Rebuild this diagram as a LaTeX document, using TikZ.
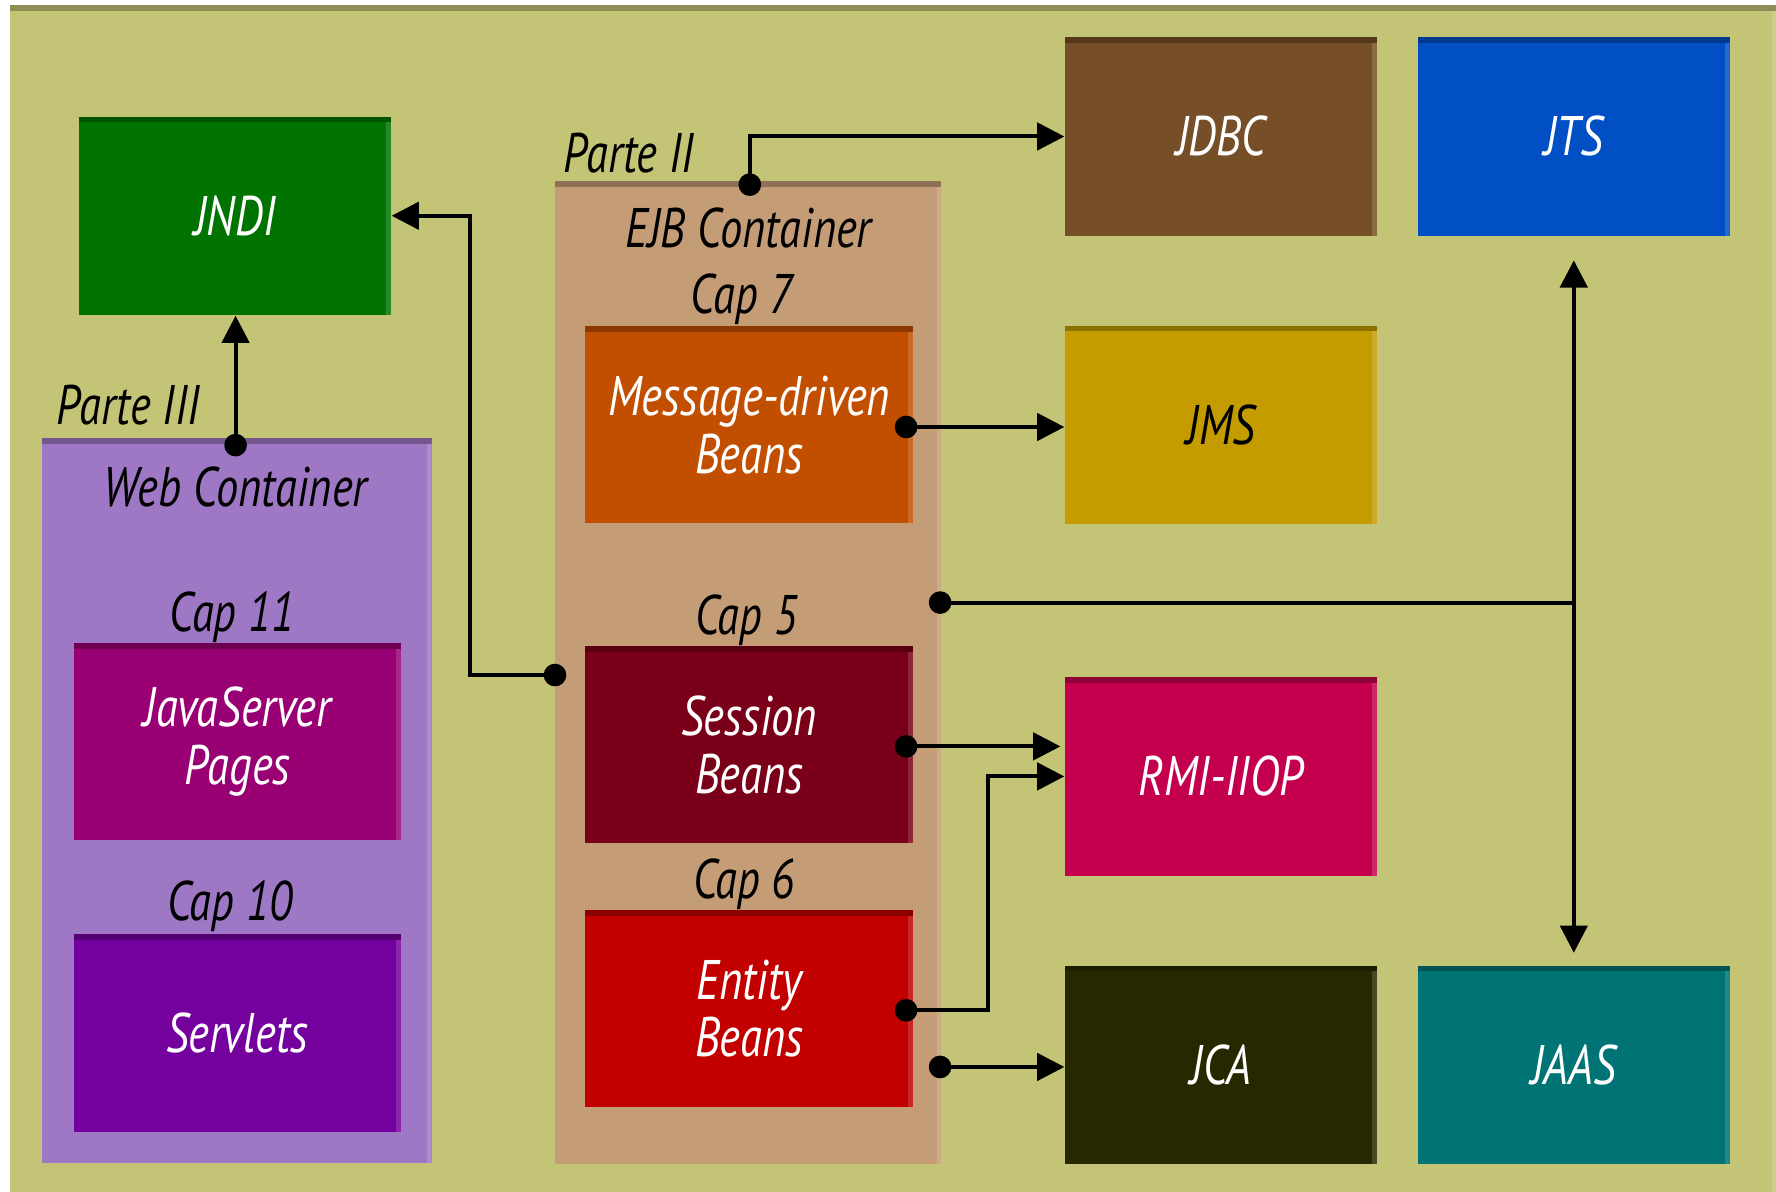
\documentclass[tikz,border=0pt]{standalone}
\usepackage{fontspec}
\setmainfont{PT Sans}[FakeStretch=0.80]
\usetikzlibrary{arrows.meta}
\definecolor{panelc}{HTML}{C4C476}
\definecolor{jndic}{HTML}{007300}
\definecolor{webc}{HTML}{9E78C4}
\definecolor{jspc}{HTML}{990073}
\definecolor{servc}{HTML}{74009E}
\definecolor{ejbc}{HTML}{C49C76}
\definecolor{mdbc}{HTML}{C24E00}
\definecolor{sesc}{HTML}{7A0019}
\definecolor{entc}{HTML}{C20000}
\definecolor{jdbcc}{HTML}{764E27}
\definecolor{jtsc}{HTML}{004FC4}
\definecolor{jmsc}{HTML}{C49C00}
\definecolor{rmic}{HTML}{C4004E}
\definecolor{jcac}{HTML}{282800}
\definecolor{jaasc}{HTML}{007474}

\begin{document}
\begin{tikzpicture}[x = 0.01cm, y = -0.01cm]
\tikzstyle{Blk}=[rectangle, inner sep = 0pt, fill = #1,
path picture = {
\fill[#1!72!black] (path picture bounding box.north west) rectangle ([yshift = -1.4pt]path picture bounding box.north east);
\fill[#1!85!white] ([xshift = -1.2pt, yshift = -1.4pt]path picture bounding box.north east) rectangle (path picture bounding box.south east);
}]
\tikzstyle{SideBox}=[minimum width = 2.75cm, minimum height = 1.75cm, text = white, font = \fontsize{14}{16}\selectfont\itshape, align = center]
\tikzstyle{BeanBox}=[minimum width = 2.89cm, minimum height = 1.74cm, text = white, font = \fontsize{14}{14.5}\selectfont\itshape, align = center]
\tikzstyle{Lbl}=[inner sep = 0pt, font = \fontsize{14}{16}\selectfont\itshape]
\tikzstyle{Arr}=[line width = 1pt, -{Triangle[length = 0.24cm, width = 0.24cm]}]
\tikzstyle{Wire}=[line width = 1pt]
\useasboundingbox (0, 0) rectangle (1568, 1052);
\node[Blk = panelc, minimum width = 15.59cm, minimum height = 10.57cm] (frame) at (788.5, 533.5) {};
\node[Blk = webc, minimum width = 3.44cm, minimum height = 6.40cm] (web) at (209, 707) {};
\node[Blk = ejbc, minimum width = 3.41cm, minimum height = 8.67cm] (ejb) at (660.5, 593.5) {};
\node[Blk = jndic, SideBox] (jndi) at (207.5, 190.5) {JNDI};
\node[Blk = jdbcc, SideBox] (jdbc) at (1078, 120.5) {JDBC};
\node[Blk = jtsc, SideBox] (jts) at (1389.5, 120.5) {JTS};
\node[Blk = jmsc, SideBox, text = black] (jms) at (1078, 375) {JMS};
\node[Blk = rmic, SideBox] (rmi) at (1078, 685.5) {RMI-IIOP};
\node[Blk = jcac, SideBox] (jca) at (1078, 940) {JCA};
\node[Blk = jaasc, SideBox] (jaas) at (1389.5, 940) {JAAS};
\node[Blk = jspc, BeanBox] (jsp) at (209.5, 655) {JavaServer\\Pages};
\node[Blk = servc, BeanBox] (serv) at (209.5, 912) {Servlets};
\node[Blk = mdbc, BeanBox] (mdb) at (661.5, 375) {Message-driven\\Beans};
\node[Blk = sesc, BeanBox] (ses) at (661.5, 657.5) {Session\\Beans};
\node[Blk = entc, BeanBox] (ent) at (661.5, 890.5) {Entity\\Beans};
\node[Lbl] (p3) at (113, 358) {Parte III};
\node[Lbl] (webt) at (208, 430) {Web Container};
\node[Lbl] (c11) at (205, 545) {Cap 11};
\node[Lbl] (c10) at (203, 800) {Cap 10};
\node[Lbl] (p2) at (555, 135) {Parte II};
\node[Lbl] (ejbt) at (661, 201) {EJB Container};
\node[Lbl] (c7) at (655, 264) {Cap 7};
\node[Lbl] (c5) at (659, 548) {Cap 5};
\node[Lbl] (c6) at (657, 781) {Cap 6};
\coordinate (dWeb) at (208, 393);
\coordinate (dEjb) at (662, 163);
\coordinate (dLeft) at (490, 596);
\coordinate (dMdb) at (800, 377);
\coordinate (dTx) at (830, 532);
\coordinate (dSes) at (800, 659);
\coordinate (dEnt) at (800, 892);
\coordinate (dJca) at (830, 942);
\draw[Arr] (dWeb) -- (dWeb |- jndi.south);
\draw[Arr] (dLeft) -- ++(-75, 0) |- (jndi.east);
\draw[Arr] (dEjb) |- (jdbc.west);
\draw[Arr] (dMdb) -- (dMdb -| jms.west);
\draw[Wire] (dTx) -- (dTx -| jts.south);
\draw[Arr, {Triangle[length = 0.24cm, width = 0.24cm]}-{Triangle[length = 0.24cm, width = 0.24cm]}, shorten <= 6, shorten >= 3] (jts.south) -- (jaas.north);
\draw[Arr] (dSes) -- ([xshift = -1pt]dSes -| rmi.west);
\draw[Arr] (dEnt) -- ++(72, 0) |- (rmi.west);
\draw[Arr] (dJca) -- (dJca -| jca.west);
\foreach \d in {dWeb, dEjb, dLeft, dMdb, dTx, dSes, dEnt, dJca}
\fill (\d) circle (0.1cm);
\end{tikzpicture}
\end{document}
